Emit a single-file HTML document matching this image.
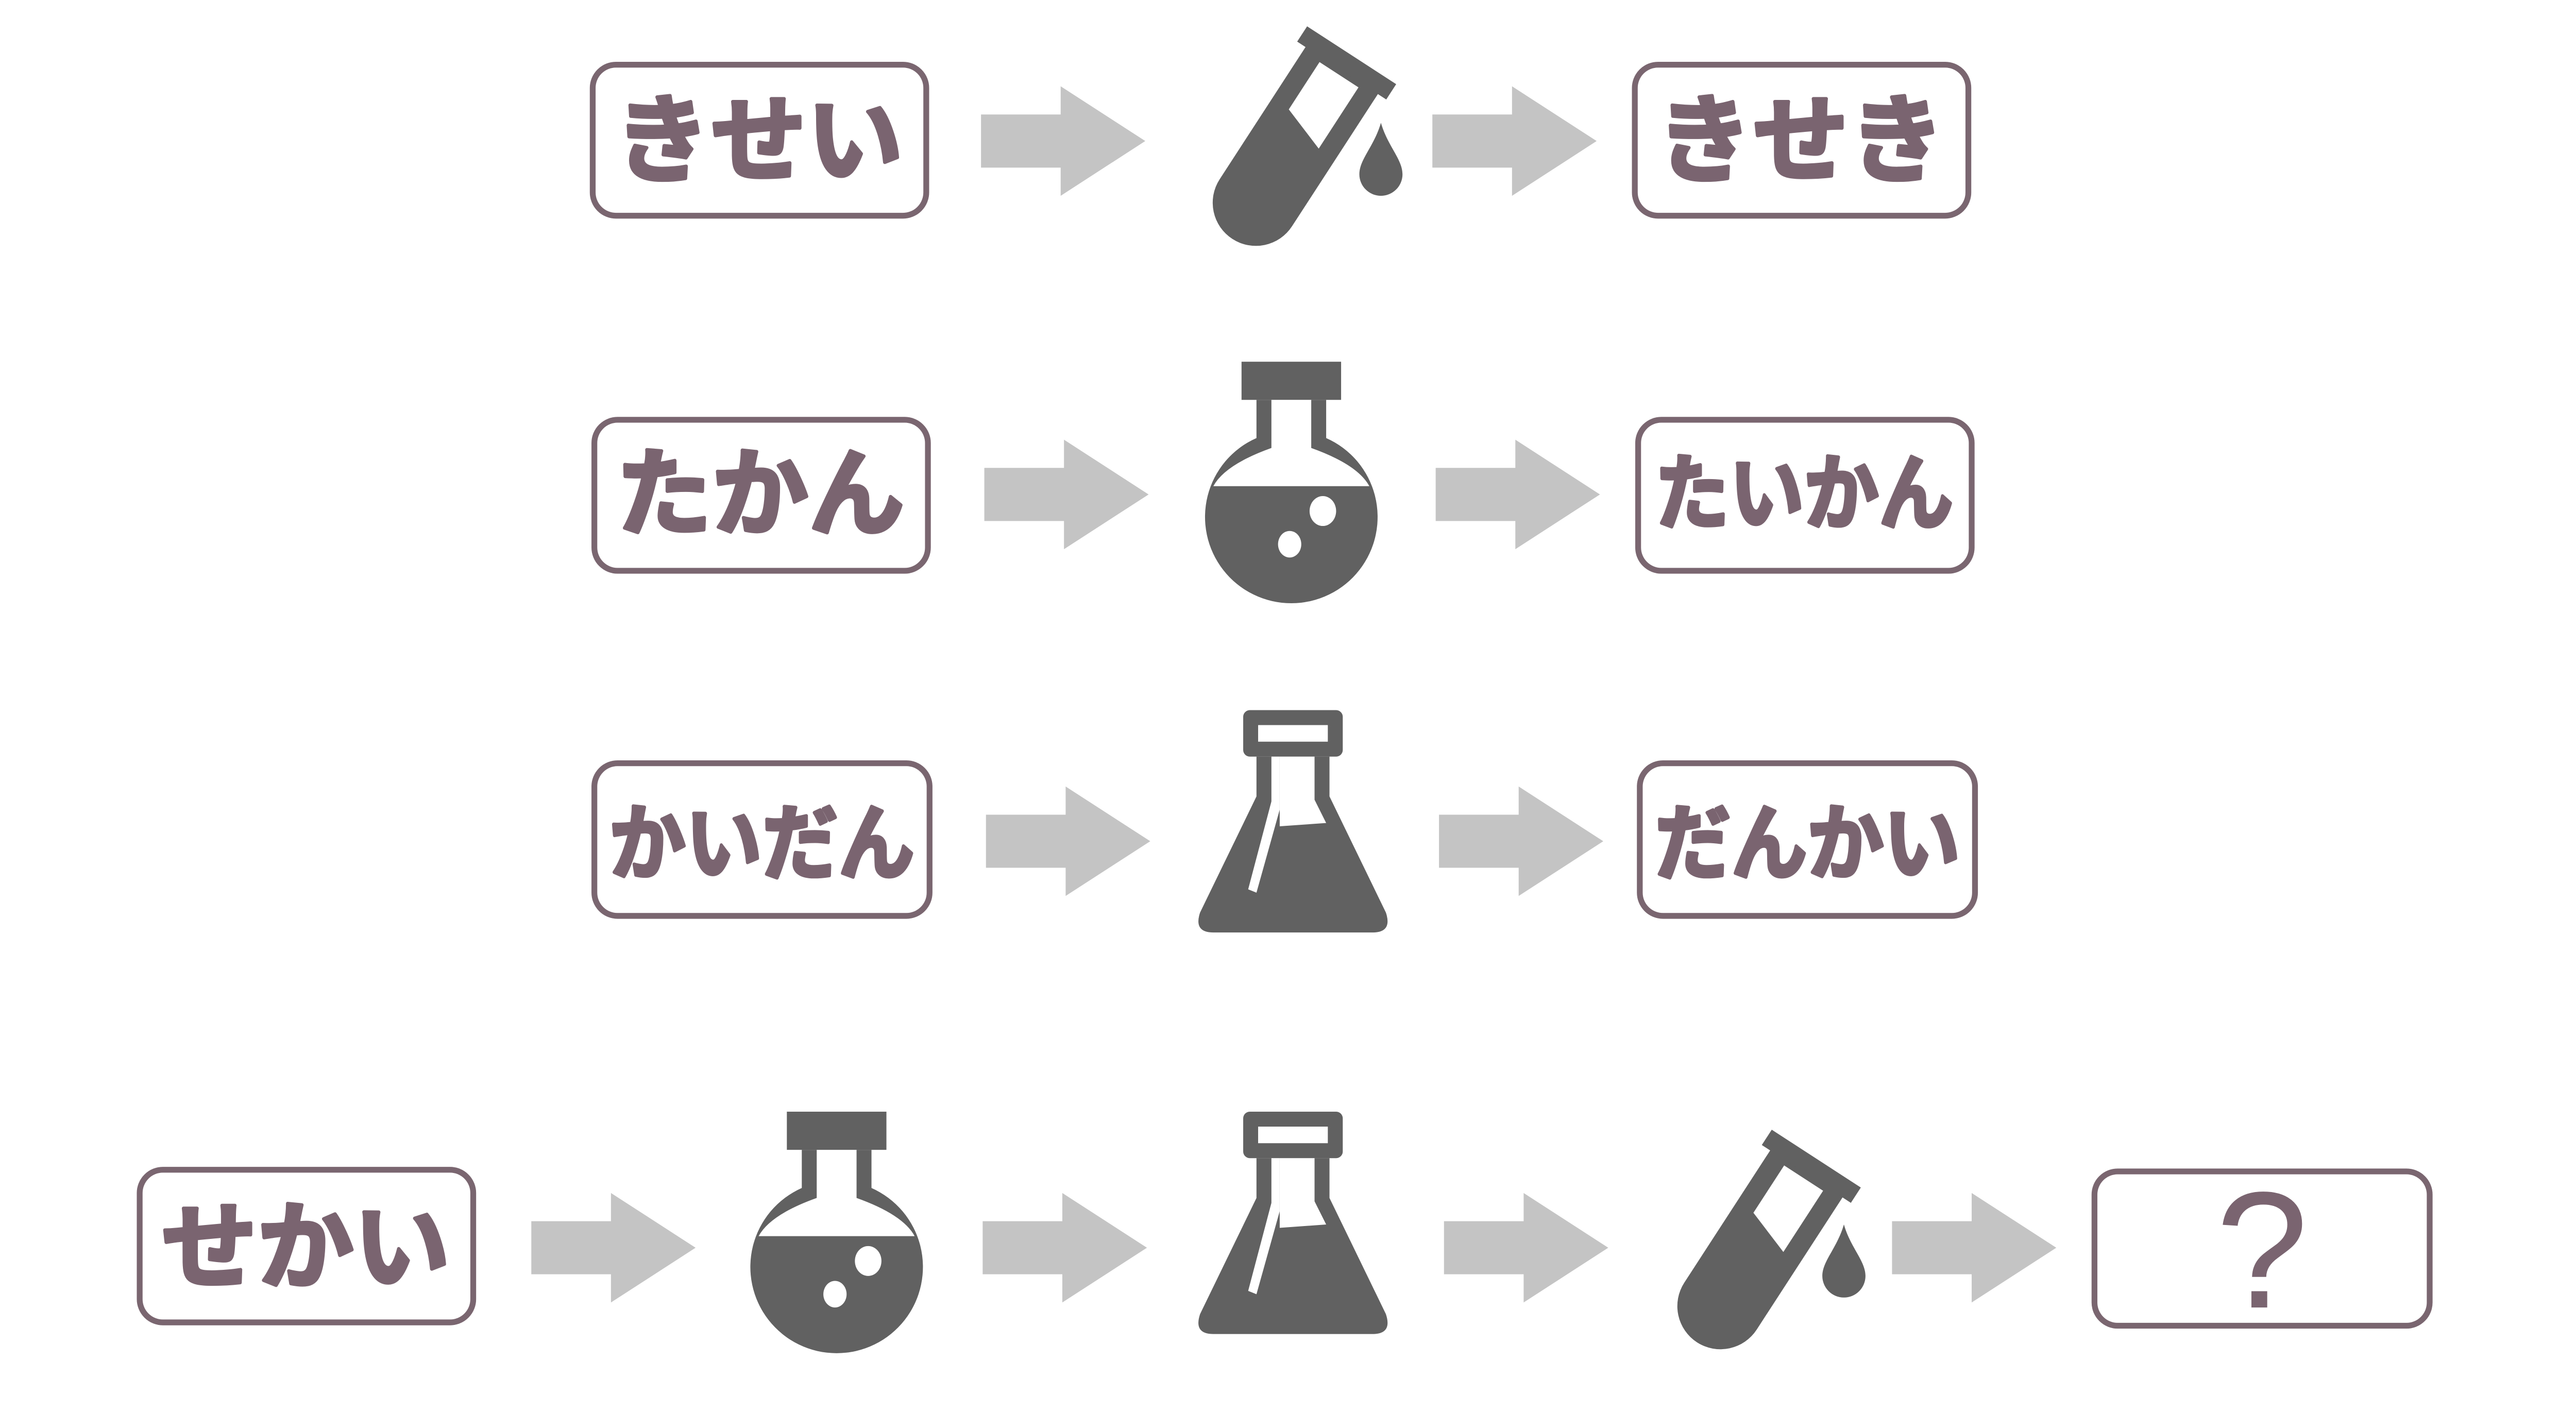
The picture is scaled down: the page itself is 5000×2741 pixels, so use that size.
<!DOCTYPE html>
<html><head><meta charset="utf-8"><style>
html,body{margin:0;padding:0;background:#fff;}
svg{display:block;}
text{font-family:"Liberation Sans","Noto Sans CJK JP",sans-serif;font-weight:bold;fill:#7a6470;}
.t{stroke:#7a6470;stroke-width:2;stroke-linejoin:round;}
</style></head><body>
<svg width="5000" height="2741" viewBox="0 0 1552 851" xmlns="http://www.w3.org/2000/svg">
<defs>
<g id="arr"><path d="M0,17 H48 V0 L99,33 L48,66 V49 H0 Z" fill="#c4c4c4"/></g>
<g id="tube">
  <g transform="rotate(33)">
    <path d="M-26,0 V98 A26,26 0 0 0 26,98 V0 Z" fill="#616161"/>
    <rect x="-32" y="-8" width="64" height="11" fill="#616161"/>
    <path d="M-14,6 H14 V50 L-14,40 Z" fill="#fff"/>
  </g>
</g>
<g id="drop"><path d="M0,-24 C4,-10 13,-2 13,7 A13,13 0 0 1 -13,7 C-13,-2 -4,-10 0,-24 Z" fill="#616161"/></g>
<g id="rflask">
  <rect x="-30" y="0" width="60" height="23" fill="#616161"/>
  <path d="M-21,23 V46 A52,52 0 1 0 21,46 V23 Z" fill="#616161"/>
  <path d="M-12,23 V52 Q-40,62 -47,75 H47 Q40,62 12,52 V23 Z" fill="#fff"/>
  <ellipse cx="19" cy="90" rx="8" ry="9" fill="#fff"/>
  <ellipse cx="-1" cy="110" rx="7" ry="8" fill="#fff"/>
</g>
<g id="eflask">
  <rect x="-30" y="0" width="60" height="28" rx="4" fill="#616161"/>
  <rect x="-21" y="9" width="42" height="10" fill="#fff"/>
  <path d="M-22,28 V52 L-56,122 Q-60,134 -48,134 H48 Q60,134 56,122 L22,52 V28 Z" fill="#616161"/>
  <path d="M-13,28 V55 L-27,108 L-22,110 L-8,60 V28 Z" fill="#fff"/>
  <path d="M-8,28 H13 V54 L20,68 L-8,70 Z" fill="#fff"/>
</g>
</defs>
<g fill="#fff" stroke="#7a6670" stroke-width="3.5">
  <rect x="357" y="39" width="201" height="91" rx="14"/>
  <rect x="985" y="39" width="201" height="91" rx="14"/>
  <rect x="358" y="253" width="201" height="91" rx="14"/>
  <rect x="987" y="253" width="201" height="91" rx="14"/>
  <rect x="358" y="460" width="202" height="92" rx="14"/>
  <rect x="988" y="460" width="202" height="92" rx="14"/>
  <rect x="84" y="705" width="201" height="92" rx="14"/>
  <rect x="1262" y="706" width="202" height="93" rx="14"/>
</g>
<text class="t" x="457" y="105" font-size="58" text-anchor="middle">きせい</text>
<text class="t" x="1085" y="105" font-size="58" text-anchor="middle">きせき</text>
<text class="t" x="458" y="318" font-size="58" text-anchor="middle">たかん</text>
<text class="t" x="1087" y="315" font-size="50" text-anchor="middle" textLength="180" lengthAdjust="spacingAndGlyphs">たいかん</text>
<text class="t" x="459" y="526" font-size="50" text-anchor="middle" textLength="184" lengthAdjust="spacingAndGlyphs">かいだん</text>
<text class="t" x="1089" y="526" font-size="50" text-anchor="middle" textLength="184" lengthAdjust="spacingAndGlyphs">だんかい</text>
<text class="t" x="184" y="772" font-size="58" text-anchor="middle">せかい</text>
<text x="1363" y="788" font-size="100" text-anchor="middle" style="font-weight:normal">?</text>

<use href="#arr" x="591" y="52"/><use href="#arr" x="863" y="52"/>
<use href="#arr" x="593" y="265"/><use href="#arr" x="865" y="265"/>
<use href="#arr" x="594" y="474"/><use href="#arr" x="867" y="474"/>
<use href="#arr" x="320" y="719"/><use href="#arr" x="592" y="719"/><use href="#arr" x="870" y="719"/><use href="#arr" x="1140" y="719"/>

<use href="#tube" x="810" y="40"/><use href="#drop" x="832" y="98"/>
<use href="#rflask" x="778" y="218"/>
<use href="#eflask" x="779" y="428"/>
<use href="#rflask" x="504" y="670"/>
<use href="#eflask" x="779" y="670"/>
<use href="#tube" x="1090" y="705"/><use href="#drop" x="1111" y="762"/>
</svg>
</body></html>
